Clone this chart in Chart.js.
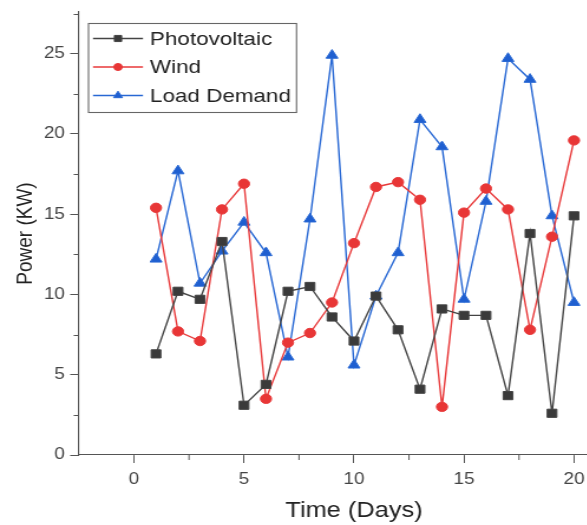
<!DOCTYPE html>
<html><head><meta charset="utf-8">
<script src="https://cdn.jsdelivr.net/npm/chart.js@4"></script>
<style>html,body{margin:0;padding:0;background:#fff;overflow:hidden}#wrap{width:587px;height:525px;overflow:hidden;position:relative}
#c{display:block;position:absolute;left:0;top:0}</style>
</head><body><div id="wrap"><canvas id="c"></canvas></div>
<script>
const days = [1,2,3,4,5,6,7,8,9,10,11,12,13,14,15,16,17,18,19,20];
const photovoltaic = [6.3,10.2,9.7,13.3,3.1,4.4,10.2,10.5,8.6,7.1,9.9,7.8,4.1,9.1,8.7,8.7,3.7,13.8,2.6,14.9];
const wind = [15.4,7.7,7.1,15.3,16.9,3.5,7.0,7.6,9.5,13.2,16.7,17.0,15.9,3.0,15.1,16.6,15.3,7.8,13.6,19.6];
const loadDemand = [12.2,17.7,10.7,12.7,14.5,12.6,6.1,14.7,24.9,5.6,9.9,12.6,20.9,19.2,9.7,15.8,24.7,23.4,14.9,9.5];
const seriesNames = ['Photovoltaic','Wind','Load Demand'];
const xMajorTicks = [0,5,10,15,20];
const yMajorTicks = [0,5,10,15,20,25];

// the reference picture is stretched horizontally; draw narrower and stretch with CSS
const S = 1.18;
const CSS_W = 629, H = 525;
const canvas = document.getElementById('c');
canvas.width = Math.round(CSS_W / S);
canvas.height = H;
canvas.style.width = CSS_W + 'px';
canvas.style.height = H + 'px';

const FONT = '"Liberation Sans", Arial, sans-serif';
const toPts = arr => arr.map((v,i)=>({x:days[i], y:v}));

const minorTicks = {
  id:'minorTicks',
  afterDraw(chart){
    const ctx = chart.ctx, xs = chart.scales.x, ys = chart.scales.y;
    ctx.save(); ctx.strokeStyle='#555'; ctx.lineWidth=1;
    for (let v=2.5; v<=xs.max; v+=5){
      const px = xs.getPixelForValue(v);
      ctx.beginPath(); ctx.moveTo(px, ys.bottom); ctx.lineTo(px, ys.bottom+5); ctx.stroke();
    }
    for (let v=2.5; v<=ys.max; v+=5){
      const py = Math.round(ys.getPixelForValue(v))+0.5;
      ctx.beginPath(); ctx.moveTo(xs.left, py); ctx.lineTo(xs.left-4.5, py); ctx.stroke();
    }
    ctx.restore();
  }
};

const boxLegend = {
  id:'boxLegend',
  afterDraw(chart){
    const ctx = chart.ctx;
    const bx = 88.5/S, bw = 208/S;
    ctx.save();
    ctx.fillStyle='#fff'; ctx.fillRect(bx,23.5,bw,89);
    ctx.strokeStyle='#666'; ctx.lineWidth=1.1;
    ctx.strokeRect(bx,23.5,bw,89);
    chart.data.datasets.forEach((ds,i)=>{
      const y = 38.5 + i*28.5;
      ctx.strokeStyle = ds.borderColor; ctx.lineWidth = ds.borderWidth;
      ctx.beginPath(); ctx.moveTo(93/S,y); ctx.lineTo(143/S,y); ctx.stroke();
      ctx.fillStyle = ds.backgroundColor; ctx.strokeStyle = ds.borderColor; ctx.lineWidth=1;
      Chart.helpers.drawPoint(ctx,{pointStyle:ds.pointStyle, radius:ds.pointRadius*0.75, borderWidth:1, rotation:0},118/S,y);
      ctx.fillStyle='#222'; ctx.font='19px '+FONT; ctx.textBaseline='middle'; ctx.textAlign='left';
      ctx.fillText(ds.label,150/S,y+1);
    });
    ctx.restore();
  }
};

new Chart(canvas, {
  type:'line',
  data:{
    datasets:[
      {label:seriesNames[0], data:toPts(photovoltaic), borderColor:'#444444', backgroundColor:'#3a3a3a', borderWidth:1.4, pointStyle:'rect', pointRadius:5.8, pointBorderWidth:1},
      {label:seriesNames[1], data:toPts(wind), borderColor:'#e8393a', backgroundColor:'#e83636', borderWidth:1.4, pointStyle:'circle', pointRadius:4.7, pointBorderWidth:1},
      {label:seriesNames[2], data:toPts(loadDemand), borderColor:'#2868d4', backgroundColor:'#1f5fd0', borderWidth:1.4, pointStyle:'triangle', pointRadius:5.8, pointBorderWidth:1}
    ]
  },
  options:{
    responsive:false, animation:false, devicePixelRatio:1,
    layout:{autoPadding:false, padding:{top:12,right:0,left:0,bottom:0}},
    plugins:{legend:{display:false}, tooltip:{enabled:false}},
    elements:{line:{tension:0}},
    scales:{
      x:{
        type:'linear', position:'bottom', min:-2.5, max:22.5,
        afterBuildTicks: s => { s.ticks = xMajorTicks.map(v=>({value:v})); },
        afterFit: s => { s.height = 70; s.paddingLeft = 0; s.paddingRight = 0; },
        ticks:{font:{family:FONT,size:16}, color:'#444', padding:7, maxRotation:0, autoSkip:false},
        grid:{drawOnChartArea:false, drawTicks:true, tickLength:8, color:'#555'},
        border:{display:true, color:'#555', width:1.1},
        title:{display:true, text:'Time (Days)', font:{family:FONT,size:21.5}, color:'#222', padding:{top:0,bottom:1}}
      },
      y:{
        type:'linear', min:0, max:27.6,
        afterBuildTicks: s => { s.ticks = yMajorTicks.map(v=>({value:v})); },
        afterFit: s => { s.width = 79/S; s.paddingTop = 0; s.paddingBottom = 0; },
        ticks:{font:{family:FONT,size:16}, color:'#444', padding:4.5},
        grid:{drawOnChartArea:false, drawTicks:true, tickLength:7.5, color:'#555'},
        border:{display:true, color:'#555', width:1.1},
        title:{display:true, text:'Power (KW)', font:{family:FONT,size:19}, color:'#222', padding:{top:10,bottom:0}}
      }
    }
  },
  plugins:[minorTicks, boxLegend]
});
</script>
</body></html>
